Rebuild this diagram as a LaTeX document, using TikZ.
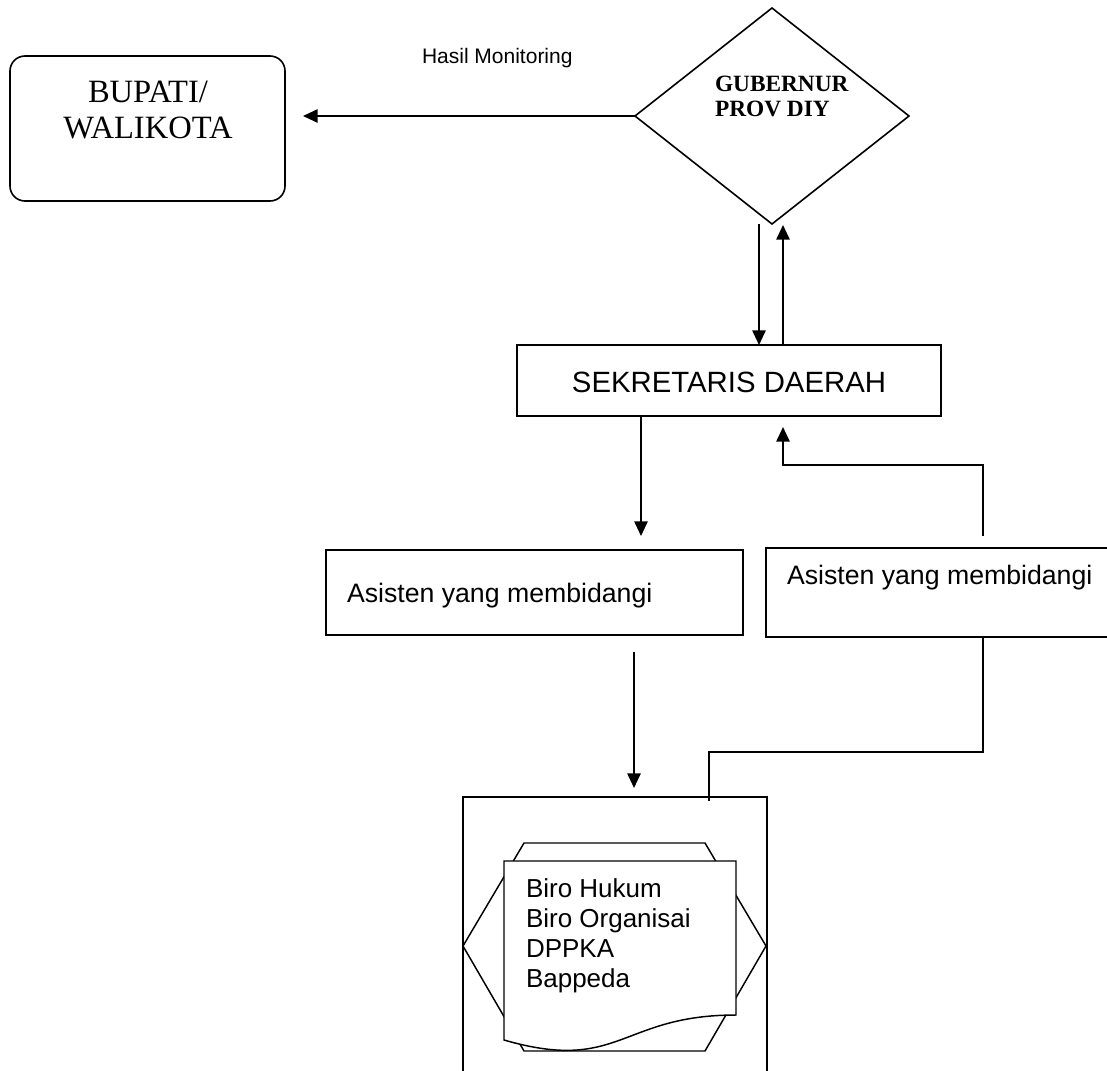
\documentclass[tikz,border=0pt]{standalone}
\usepackage{fontspec}
\usetikzlibrary{arrows.meta,shapes.geometric,calc}
\newfontfamily\lsans{Liberation Sans}
\newfontfamily\lserif{Liberation Serif}
\begin{document}
\begin{tikzpicture}[x=0.75pt,y=-0.75pt,
  box/.style={draw,line width=1.2pt,inner sep=0pt,outer sep=0pt,anchor=north west},
  arr/.style={-{Triangle[length=11pt,width=10pt]},line width=1.4pt},
  conn/.style={line width=1.1pt},
  lbl/.style={inner sep=0pt,outer sep=0pt}]
\useasboundingbox (0,0) rectangle (1107,1071);
\fill[white] (0,0) rectangle (1107,1071);
\clip (0,0) rectangle (1107,1071);

% Bupati / Walikota
\node[box,rounded corners=11.25pt,minimum width=206.25pt,minimum height=108.75pt] (bup) at (10,56) {};
\node[lbl,font=\lserif\fontsize{24.4}{27}\selectfont,align=center] (buptext) at (148,110) {BUPATI/\\WALIKOTA};

% Gubernur (decision diamond)
\node[draw,diamond,line width=1.2pt,inner sep=0pt,outer sep=0pt,minimum width=205.5pt,minimum height=162pt] (gub) at (772,116) {};
\node[lbl,font=\lserif\bfseries\fontsize{17.5}{18.75}\selectfont,align=left,anchor=west] (gubtext) at (715,96.5) {GUBERNUR\\PROV DIY};

\node[lbl,font=\lsans\fontsize{15.75}{18}\selectfont,anchor=base west] (hasil) at (422,63) {Hasil Monitoring};

% Sekretaris Daerah
\node[box,minimum width=318pt,minimum height=53.25pt] (sek) at (517,345) {};
\node[lbl,font=\lsans\fontsize{22}{26}\selectfont,anchor=base] (sektext) at (729,392) {SEKRETARIS DAERAH};

% Asisten boxes
\node[box,minimum width=312.75pt,minimum height=63.75pt] (as1) at (326,550) {};
\node[lbl,font=\lsans\fontsize{20}{24}\selectfont,anchor=base west] (as1text) at (347,602) {Asisten yang membidangi};
\node[box,minimum width=273pt,minimum height=66.75pt] (as2) at (766,548) {};
\node[lbl,font=\lsans\fontsize{20}{24}\selectfont,anchor=base west] (as2text) at (787,584) {Asisten yang membidangi};

% Outer frame with preparation hexagon and document
\node[box,minimum width=228pt,minimum height=240pt] (outer) at (463,797) {};
\draw[conn] (463,946) -- (524,843) -- (705,843) -- (766,946) -- (705,1051) -- (524,1051) -- cycle;
\draw[conn,fill=white] (504,861) -- (736,861) -- (736,1015)
  .. controls (620,1015) and (620,1073.5) .. (504,1040) -- cycle;
\node[lbl,font=\lsans\fontsize{19.5}{22.5}\selectfont,align=left,anchor=north west] (biro) at (526,879)
  {Biro Hukum\\Biro Organisai\\DPPKA\\Bappeda};

% Connectors
\draw[arr,shorten >=13.5pt] (gub.west) -- (gub.west -| bup.east);

\coordinate (g1) at ($(gub.south)+(-13,0)$);
\coordinate (g2) at ($(gub.south)+(11,1)$);
\draw[arr] (g1) -- (g1 |- sek.north);
\draw[arr] (g2 |- sek.north) -- (g2);

\coordinate (s1) at ($(sek.south west)+(124,0)$);
\draw[arr,shorten >=10.5pt] (s1) -- (s1 |- as1.north);

\coordinate (a1) at ($(as1.south west)+(308,17)$);
\draw[arr,shorten >=6.75pt] (a1) -- (a1 |- outer.north);

\coordinate (c1) at ($(as2.north west)+(217,-12)$);
\coordinate (c2) at ($(sek.south west)+(266,49)$);
\draw[arr,shorten >=8.25pt] (c1) |- (c2) -- (c2 |- sek.south);

\coordinate (c3) at ($(as2.south west)+(217,0)$);
\coordinate (c4) at ($(outer.north west)+(246,-45)$);
\coordinate (c5) at ($(outer.north west)+(246,4)$);
\draw[conn] (c3) |- (c4) -- (c5);
\end{tikzpicture}
\end{document}
